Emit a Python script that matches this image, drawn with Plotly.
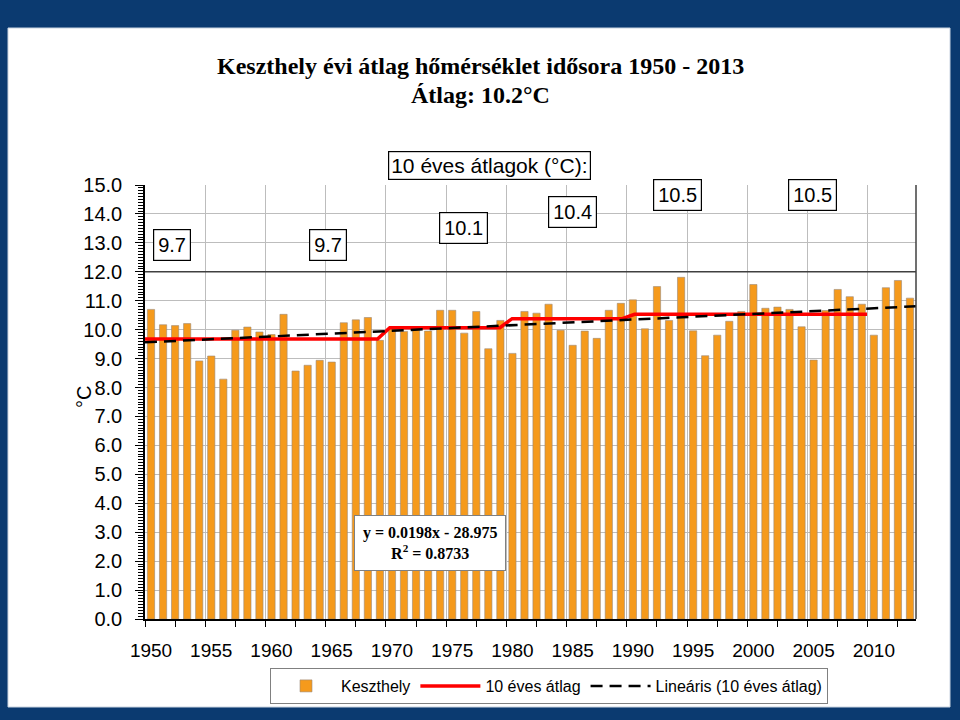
import numpy as np
import plotly.graph_objects as go

# ---------------- data ----------------
years = list(range(1950, 2014))
temps = [10.70, 10.17, 10.14, 10.21, 8.92, 9.09, 8.29, 9.98, 10.09, 9.92,
         9.83, 10.53, 8.57, 8.77, 8.94, 8.88, 10.24, 10.34, 10.42, 9.63,
         10.02, 9.94, 10.03, 9.95, 10.67, 10.67, 9.88, 10.63, 9.34, 10.32,
         9.18, 10.63, 10.57, 10.88, 9.98, 9.46, 9.95, 9.70, 10.67, 10.91,
         11.03, 10.03, 11.49, 10.32, 11.81, 9.96, 9.10, 9.81, 10.29, 10.63,
         11.56, 10.74, 10.78, 10.70, 10.10, 8.95, 10.66, 11.39, 11.14, 10.88,
         9.81, 11.45, 11.70, 11.09]
decade_starts = [1950, 1960, 1970, 1980, 1990, 2000]
decade_means = [9.68, 9.68, 10.07, 10.38, 10.53, 10.53]
label_years = [1950, 1955, 1960, 1965, 1970, 1975, 1980, 1985, 1990, 1995, 2000, 2005, 2010]
y_ticks = [float(v) for v in range(0, 16)]
title1 = "Keszthely évi átlag hőmérséklet idősora 1950 - 2013"
title2 = "Átlag: 10.2°C"
box_title = "10 éves átlagok (°C):"
eq_text = "y = 0.0198x - 28.975<br>R<sup>2</sup> = 0.8733"
names = ["Keszthely", "10 éves átlag", "Lineáris (10 éves átlag)"]

# red step line (10-year averages), one point per year
red_x, red_y = [], []
for start, m in zip(decade_starts, decade_means):
    for yr in range(start, start + 10):
        red_x.append(yr)
        red_y.append(m)
coef = np.polyfit(red_x, red_y, 1)
trend_y = np.polyval(coef, years)

# ---------------- layout helpers (pixel -> paper) ----------------
W, H = 960, 720
L, R, T, B = 145, 44, 185, 101
PW, PH = W - L - R, H - T - B
BLUE = "#0b3a70"


def px(x):
    return (x - L) / PW


def py(y):
    return (H - B - y) / PH


SANS = "Liberation Sans"
SERIF = "Liberation Serif"

fig = go.Figure()
fig.add_trace(go.Bar(x=years, y=temps, name=names[0], width=0.6,
                     marker=dict(color="#F59A1C", line=dict(color="#9a8a7a", width=0.6)),
                     xaxis="x", yaxis="y"))
fig.add_trace(go.Scatter(x=red_x, y=red_y, name=names[1], mode="lines",
                         line=dict(color="#FF0000", width=3.5), xaxis="x3", yaxis="y"))
fig.add_trace(go.Scatter(x=years, y=trend_y, name=names[2], mode="lines",
                         line=dict(color="black", width=2.5, dash="12px,7px"),
                         xaxis="x3", yaxis="y"))
fig.add_trace(go.Scatter(x=[years[0]], y=[0], mode="markers", opacity=0,
                         showlegend=False, hoverinfo="skip", xaxis="x2", yaxis="y"))

grid_x = [y + 4.5 for y in label_years]
xr = [years[0] - 0.5, years[-1] + 0.5]

fig.update_layout(
    width=W, height=H,
    margin=dict(l=L, r=R, t=T, b=B),
    paper_bgcolor=BLUE,
    plot_bgcolor="white",
    xaxis=dict(range=xr, tickmode="array", tickvals=label_years,
               ticktext=[str(v) for v in label_years], ticks="", showgrid=False,
               showline=True, linecolor="black", linewidth=1.5, zeroline=False,
               tickfont=dict(family=SANS, size=19, color="black"),
               ticklabelstandoff=13,
               minor=dict(ticks="outside", tick0=xr[0], dtick=2.5, ticklen=6,
                          tickcolor="black", tickwidth=1.2, showgrid=False)),
    xaxis2=dict(range=xr, overlaying="x", tickmode="array", tickvals=grid_x,
                showgrid=True, gridcolor="#bdbdbd", gridwidth=1,
                showticklabels=False, ticks="", showline=False, zeroline=False),
    xaxis3=dict(range=[years[0], years[-1]], overlaying="x", visible=False),
    yaxis=dict(range=[0, 15], tickmode="array", tickvals=y_ticks,
               ticktext=[f"{v:.1f}" for v in y_ticks],
               showgrid=True, gridcolor="#bdbdbd", gridwidth=1,
               showline=True, linecolor="black", linewidth=1.5, zeroline=False,
               ticks="outside", ticklen=8, tickcolor="black", tickwidth=1.2,
               ticklabelstandoff=9,
               tickfont=dict(family=SANS, size=20, color="black"),
               minor=dict(ticks="outside", tick0=0, dtick=0.1, ticklen=5,
                          tickcolor="black", tickwidth=1, showgrid=False)),
    legend=dict(orientation="h", x=px(549), xanchor="center", y=py(668), yanchor="top",
                bgcolor="white", bordercolor="#808080", borderwidth=1,
                font=dict(family=SANS, size=16, color="black"),
                itemwidth=60, tracegroupgap=0),
    showlegend=True,
)

# white inner panel and borders
fig.add_shape(type="rect", xref="paper", yref="paper", x0=px(8), x1=px(950), y0=py(707), y1=py(28),
              fillcolor="white", line=dict(color="#c9d3e0", width=1), layer="below")
fig.add_shape(type="line", xref="paper", yref="y", x0=0, x1=1, y0=12, y1=12,
              line=dict(color="#404040", width=1.5))
fig.add_shape(type="line", xref="paper", yref="paper", x0=1, x1=1, y0=0, y1=1,
              line=dict(color="#404040", width=1.5))


def note(x, y, text, **kw):
    fig.add_annotation(xref="paper", yref="paper", x=px(x), y=py(y), text=text,
                       showarrow=False, xanchor="center", yanchor="middle", **kw)


# titles
note(480, 66, f"<b>{title1}</b>", font=dict(family=SERIF, size=24, color="black"))
note(480, 95, f"<b>{title2}</b>", font=dict(family=SERIF, size=24, color="black"))
# y-axis title
note(84, 397, "°C", textangle=-90, font=dict(family=SANS, size=20, color="black"))
# 10-year box title
note(489, 166, box_title, font=dict(family=SANS, size=21, color="black"),
     bordercolor="black", borderwidth=1.2, borderpad=2, bgcolor="white")
# decade labels
label_pos = [(171.7, 245), (327.5, 245), (463.7, 228.3), (572, 212.3), (677.5, 195.3), (812, 195.3)]
for (lx, ly), m in zip(label_pos, decade_means):
    note(lx, ly, f"{m:.1f}", font=dict(family=SANS, size=20, color="black"),
         bordercolor="black", borderwidth=1.2, borderpad=4, bgcolor="white")
# regression equation box
note(430, 543, f"<b>{eq_text}</b>", align="center",
     font=dict(family=SERIF, size=16, color="black"),
     bordercolor="#808080", borderwidth=1, borderpad=8, bgcolor="white")

fig.write_html("out.html", config={"displayModeBar": False},
               post_script=f"document.body.style.margin='0';document.body.style.background='{BLUE}';")
